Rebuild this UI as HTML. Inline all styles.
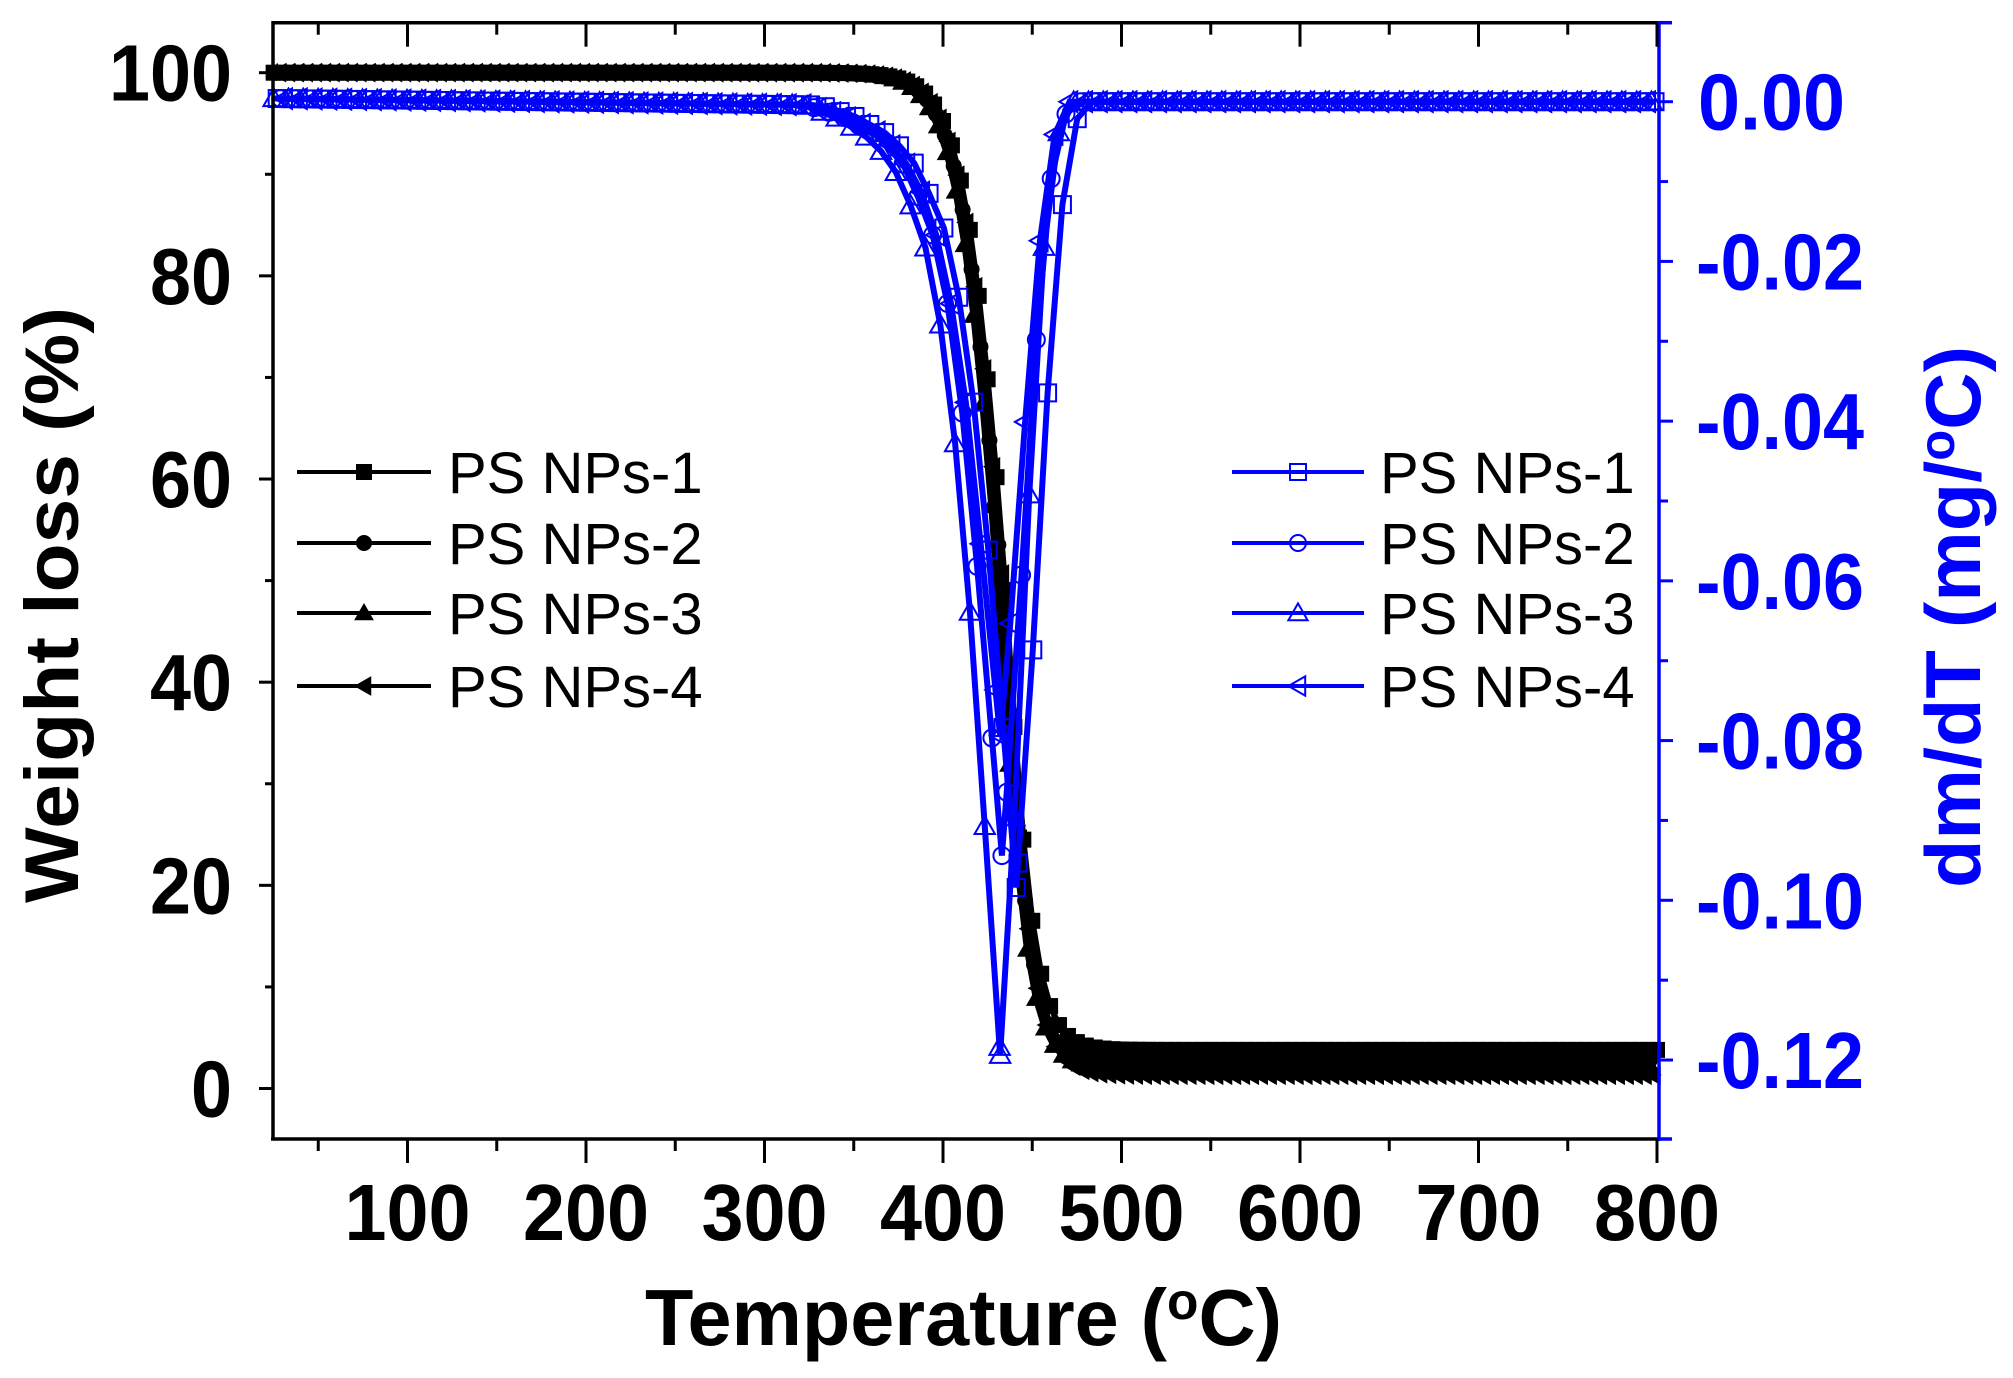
<!DOCTYPE html>
<html><head><meta charset="utf-8"><style>
html,body{margin:0;padding:0;background:#fff;}
svg{display:block;}
</style></head><body>
<svg id="c" width="2013" height="1378" xmlns="http://www.w3.org/2000/svg" font-family="Liberation Sans, Arial, sans-serif">
<rect width="2013" height="1378" fill="#fff"/>
<g id="data"></g>
<g id="axes"></g>
<text x="645" y="1345" font-size="80" font-weight="bold" textLength="637" lengthAdjust="spacingAndGlyphs">Temperature (<tspan font-size="52" dy="-26">o</tspan><tspan dy="26">C)</tspan></text>
<text transform="translate(78,903) rotate(-90)" font-size="76" font-weight="bold" textLength="596" lengthAdjust="spacingAndGlyphs">Weight loss (%)</text>
<text transform="translate(1980,888) rotate(-90)" font-size="78" font-weight="bold" fill="#0000ff" textLength="542" lengthAdjust="spacingAndGlyphs">dm/dT (mg/<tspan font-size="50" dy="-26">o</tspan><tspan dy="26">C)</tspan></text>
<g font-size="58">
<text x="448" y="493">PS NPs-1</text>
<text x="448" y="564">PS NPs-2</text>
<text x="448" y="634">PS NPs-3</text>
<text x="448" y="707">PS NPs-4</text>
<text x="1380" y="493">PS NPs-1</text>
<text x="1380" y="564">PS NPs-2</text>
<text x="1380" y="634">PS NPs-3</text>
<text x="1380" y="707">PS NPs-4</text>
</g>
<g id="leg"></g>
</svg>
<script>
const NS="http://www.w3.org/2000/svg";
const X=T=>407.5+(T-100)*1.785;
const YL=v=>1088.5-v*10.158;
const YR=d=>101.7-d*7986;
function el(p,tag,attrs,txt){const e=document.createElementNS(NS,tag);for(const k in attrs)e.setAttribute(k,attrs[k]);if(txt!==undefined)e.textContent=txt;p.appendChild(e);return e;}
const data=document.getElementById('data'),axes=document.getElementById('axes'),leg=document.getElementById('leg');
function marker(p,type,x,y,s,col,filled){
  const f=filled?col:'none',sw=filled?1:2;
  if(type==='sq')el(p,'rect',{x:x-s/2,y:y-s/2,width:s,height:s,fill:f,stroke:col,'stroke-width':sw});
  else if(type==='ci')el(p,'circle',{cx:x,cy:y,r:s/2,fill:f,stroke:col,'stroke-width':sw});
  else if(type==='tu')el(p,'polygon',{points:`${x},${y-s*0.6} ${x-s*0.6},${y+s*0.45} ${x+s*0.6},${y+s*0.45}`,fill:f,stroke:col,'stroke-width':sw});
  else el(p,'polygon',{points:`${x-s*0.6},${y} ${x+s*0.45},${y-s*0.6} ${x+s*0.45},${y+s*0.6}`,fill:f,stroke:col,'stroke-width':sw});
}
const types=['sq','ci','tu','tl'];
const tga=[{tc:434,res:3.8},{tc:432,res:2.8},{tc:430,res:2.0},{tc:433,res:1.3}];
tga.forEach((p,i)=>{
  const pts=[];
  for(let T=25+i;T<=800;T+=5){
    const s=T<p.tc?11.5:8.5;
    const w=p.res+(100-p.res)/(1+Math.exp((T-p.tc)/s));
    pts.push([X(T),YL(w)]);
  }
  el(data,'polyline',{points:pts.map(q=>q.join(',')).join(' '),fill:'none',stroke:'#000','stroke-width':6});
  pts.forEach(q=>marker(data,types[i],q[0],q[1],15,'#000',true));
});
const L=[[-110,0],[-90,0.015],[-70,0.04],[-55,0.08],[-40,0.16],[-30,0.27],[-20,0.45],[-10,0.72],[0,1]];
const R=[[0,1],[8,0.75],[16,0.42],[24,0.16],[31,0.04],[38,0]];
function shape(o){const a=o<=0?L:R;if(o<a[0][0])return 0;if(o>a[a.length-1][0])return 0;
  for(let k=0;k<a.length-1;k++){if(o>=a[k][0]&&o<=a[k+1][0]){const t=(o-a[k][0])/(a[k+1][0]-a[k][0]);return a[k][1]+t*(a[k+1][1]-a[k][1]);}}return 0;}
const dtg=[{tm:441,A:0.098,off:2},{tm:433,A:0.094,off:4},{tm:432,A:0.119,off:0},{tm:432,A:0.079,off:6}];
dtg.forEach((p,i)=>{
  const Ts=[];
  for(let T=25+p.off;T<=800;T+=8.3)Ts.push(T);
  Ts.push(p.tm);Ts.sort((a,b)=>a-b);
  const pts=Ts.map(T=>{const base=T<470?0.0004-0.0008*(T-25)/300:0;return [X(T),YR(Math.max(base,-0.0004)-p.A*shape(T-p.tm))];});
  el(data,'polyline',{points:pts.map(q=>q.join(',')).join(' '),fill:'none',stroke:'#0000ff','stroke-width':6});
  pts.forEach(q=>marker(data,types[i],q[0],q[1],17,'#0000ff',false));
});
el(axes,'line',{x1:273,y1:22.7,x2:1659,y2:22.7,stroke:'#000','stroke-width':3.5});
el(axes,'line',{x1:273,y1:21,x2:273,y2:1139,stroke:'#000','stroke-width':3.5});
el(axes,'line',{x1:271,y1:1139,x2:1659,y2:1139,stroke:'#000','stroke-width':3.5});
el(axes,'line',{x1:1659,y1:21,x2:1659,y2:1141,stroke:'#0000ff','stroke-width':3.5});
el(axes,'line',{x1:1659,y1:22.7,x2:1672,y2:22.7,stroke:'#0000ff','stroke-width':3.5});
el(axes,'line',{x1:1659,y1:1139,x2:1672,y2:1139,stroke:'#0000ff','stroke-width':3.5});
for(let T=50;T<=800;T+=50){const x=X(T),maj=T%100===0;
  el(axes,'line',{x1:x,y1:1139,x2:x,y2:1139+(maj?24:12),stroke:'#000','stroke-width':3});
  el(axes,'line',{x1:x,y1:22.7,x2:x,y2:22.7+(maj?24:12),stroke:'#000','stroke-width':3});
  if(maj)el(axes,'text',{x:x,y:1240,'font-size':80,'font-weight':'bold','text-anchor':'middle',textLength:126,lengthAdjust:'spacingAndGlyphs'},String(T));}
for(let v=0;v<=100;v+=10){const y=YL(v),maj=v%20===0;
  el(axes,'line',{x1:273-(maj?14:8),y1:y,x2:273,y2:y,stroke:'#000','stroke-width':3});
  if(maj){const s=String(v);el(axes,'text',{x:232,y:y+28,'font-size':80,'font-weight':'bold','text-anchor':'end',textLength:s.length*41,lengthAdjust:'spacingAndGlyphs'},s);}}
for(let k=0;k<=13;k++){const d=-0.01*k,y=YR(d),maj=k%2===0;if(y>1139)break;
  el(axes,'line',{x1:1659,y1:y,x2:1659+(maj?14:9),y2:y,stroke:'#0000ff','stroke-width':3});
  if(maj){const s=k===0?'0.00':(d.toFixed(2));el(axes,'text',{x:k===0?1698:1696,y:y+28,'font-size':80,'font-weight':'bold',fill:'#0000ff',textLength:k===0?147:168,lengthAdjust:'spacingAndGlyphs'},s);}}
[472,543,613,686].forEach((y,i)=>{
  el(leg,'line',{x1:297,y1:y,x2:431,y2:y,stroke:'#000','stroke-width':4});
  marker(leg,types[i],364,y,15,'#000',true);
  el(leg,'line',{x1:1232,y1:y,x2:1364,y2:y,stroke:'#0000ff','stroke-width':4});
  marker(leg,types[i],1298,y,16,'#0000ff',false);
});
</script>
</body></html>
